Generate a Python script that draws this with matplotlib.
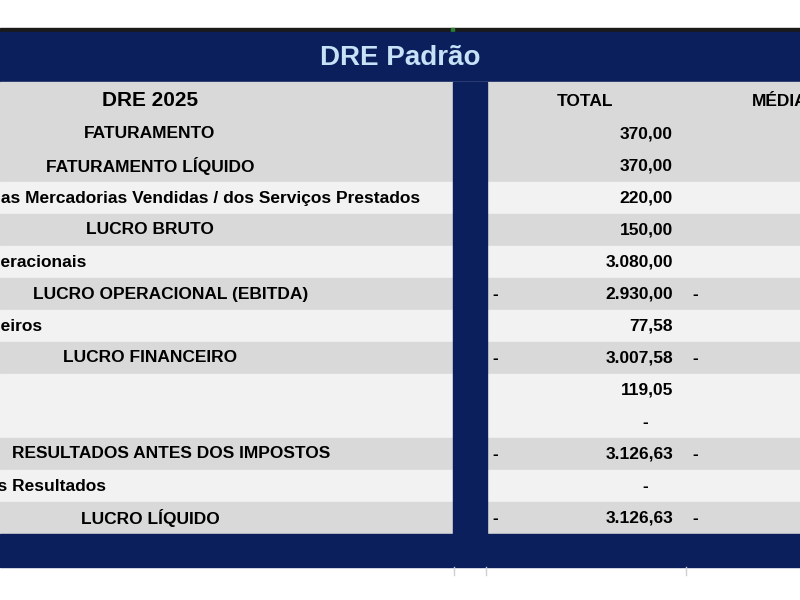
import matplotlib
matplotlib.use("Agg")
import matplotlib.pyplot as plt
from matplotlib.patches import Rectangle

title = "DRE Padrão"
header_left = "DRE 2025"
col_headers = ["TOTAL", "MÉDIA"]
labels = ["FATURAMENTO", "FATURAMENTO LÍQUIDO",
          "Custo das Mercadorias Vendidas / dos Serviços Prestados",
          "LUCRO BRUTO", "Despesas Operacionais",
          "LUCRO OPERACIONAL (EBITDA)", "Receitas/Despesas Financeiros",
          "LUCRO FINANCEIRO", "Outras Receitas", "Outras Despesas",
          "RESULTADOS ANTES DOS IMPOSTOS", "Participação nos Resultados",
          "LUCRO LÍQUIDO"]
totals = [370.00, 370.00, 220.00, 150.00, 3080.00, -2930.00, 77.58,
          -3007.58, 119.05, 0.0, -3126.63, 0.0, -3126.63]
label_pos = [("center", 150), ("center", 150), ("right", 420), ("center", 150),
             ("right", 86), ("right", 308), ("right", 42), ("center", 150),
             ("right", -5), ("right", -5), ("right", 330), ("right", 106),
             ("center", 150)]
shaded = [True, True, False, True, False, True, False, True, False, False,
          True, False, True]

def fmt(v):
    s = f"{abs(v):,.2f}"
    return s.replace(",", "X").replace(".", ",").replace("X", ".")

fig = plt.figure(figsize=(8, 6), dpi=100)
ax = fig.add_axes([0, 0, 1, 1])
ax.set_xlim(0, 800); ax.set_ylim(600, 0); ax.axis("off")
navy = "#0a1f5c"; gray = "#d9d9d9"; light = "#f2f2f2"
FONT = "Liberation Sans"
FS = 12.5

ax.add_patch(Rectangle((0, 28), 800, 4, color="#1a1a1a"))
ax.add_patch(Rectangle((451, 28), 3, 4, color="#2e7d32"))
ax.add_patch(Rectangle((0, 32), 800, 50, color=navy))
ax.text(400, 58, title, ha="center", va="center", fontsize=20, fontweight="bold",
        color="#c6e2f7", family=FONT)
ax.add_patch(Rectangle((0, 82), 800, 36, color=gray))
ax.text(150, 101, header_left, ha="center", va="center", fontsize=15, fontweight="bold", family=FONT)
ax.text(585, 102, col_headers[0], ha="center", va="center", fontsize=FS, fontweight="bold", family=FONT)
ax.text(752, 102, col_headers[1], ha="left", va="center", fontsize=FS, fontweight="bold", family=FONT, clip_on=True)

y0, h = 118, 32
for i, (lab, v) in enumerate(zip(labels, totals)):
    y = y0 + i * h
    ax.add_patch(Rectangle((0, y), 800, h, color=gray if shaded[i] else light))
    al, xp = label_pos[i]
    ax.text(xp, y + h / 2, lab, ha=al, va="center", fontsize=FS, fontweight="bold",
            family=FONT, clip_on=True)
    if v == 0:
        ax.text(645, y + h / 2, "-", ha="center", va="center", fontsize=FS, fontweight="bold", family=FONT)
    else:
        ax.text(673, y + h / 2, fmt(v), ha="right", va="center", fontsize=FS, fontweight="bold", family=FONT)
        if v < 0:
            ax.text(492, y + h / 2, "-", ha="left", va="center", fontsize=FS, fontweight="bold", family=FONT)
            ax.text(692, y + h / 2, "-", ha="left", va="center", fontsize=FS, fontweight="bold", family=FONT)

yend = y0 + len(labels) * h
ax.add_patch(Rectangle((453, 82), 34, yend - 82, color=navy))
ax.add_patch(Rectangle((0, yend), 800, 33, color=navy))
for x in [454, 486, 686]:
    ax.plot([x, x], [yend + 33, yend + 41], color="#d0d0d0", lw=1)

fig.savefig("out.png", dpi=100)
